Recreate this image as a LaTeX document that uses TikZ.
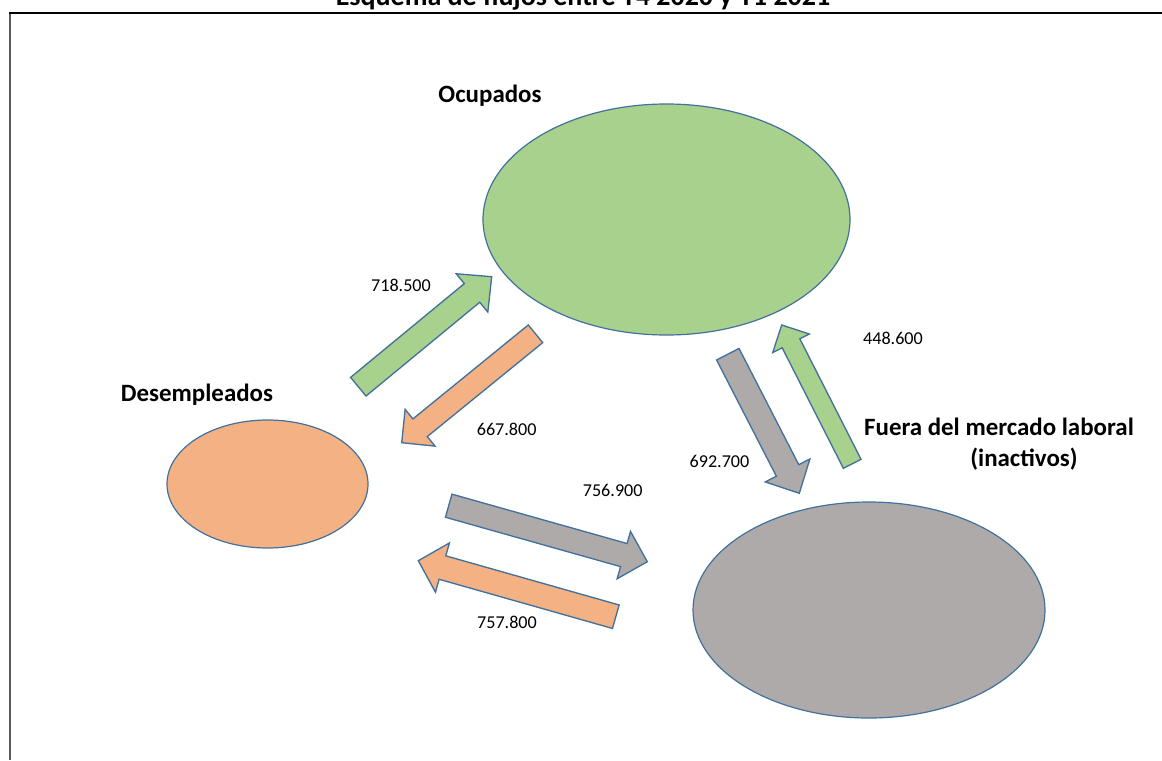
\documentclass[tikz,border=0pt]{standalone}
\usepackage{fontspec}
\setmainfont{Carlito}
\usetikzlibrary{calc,shapes.geometric}
\definecolor{ocup}{HTML}{A9D18E}
\definecolor{desem}{HTML}{F4B183}
\definecolor{inact}{HTML}{AEAAAA}
\definecolor{edgeblue}{HTML}{41719C}
\newcommand\blockarrow[6]{%
  \coordinate (ba-J) at ($(#2)!#5*0.75pt!(#1)$);
  \filldraw[arrowbox, fill=#6]
    ($(#1)!#3*0.75pt!90:(#2)$) -- ($(ba-J)!#3*0.75pt!90:(#2)$) --
    ($(ba-J)!#4*0.75pt!90:(#2)$) -- (#2) --
    ($(ba-J)!#4*0.75pt!-90:(#2)$) -- ($(ba-J)!#3*0.75pt!-90:(#2)$) --
    ($(#1)!#3*0.75pt!-90:(#2)$) -- cycle;}
\begin{document}
\begin{tikzpicture}[x=0.75pt,y=-0.75pt,
  blob/.style={ellipse, draw=edgeblue, line width=0.9pt, inner sep=0pt},
  arrowbox/.style={draw=edgeblue, line width=1pt, line join=miter},
  boldlabel/.style={font=\fontsize{18.7}{22}\selectfont\bfseries, anchor=base, inner sep=0pt},
  titlelabel/.style={font=\fontsize{21}{25}\selectfont\bfseries, anchor=base, inner sep=0pt},
  numlabel/.style={font=\fontsize{13.6}{16}\selectfont, anchor=base, inner sep=0pt}]
\useasboundingbox (0,0) rectangle (1162,760);
\fill[white] (0,0) rectangle (1162,760);
% frame
\coordinate (fl) at (9,13);
\coordinate (fr) at (1162,13);
\coordinate (fb) at (10,760);
\draw[gray!70!black, line width=1.5pt] (10,13) -- (fb);
\draw[black, line width=2.2pt] (fl) -- (fr);
% title
\node[titlelabel] (title) at (583,5) {Esquema de flujos entre T4 2020 y T1 2021};
% ellipses
\node[blob, fill=ocup, minimum width=275.25pt, minimum height=173.25pt] (ocup) at (666.5,219.5) {};
\node[blob, fill=desem, minimum width=150.75pt, minimum height=96pt] (desem) at (267.5,484) {};
\node[blob, fill=inact, minimum width=264pt, minimum height=162pt] (inact) at (869,610) {};
% labels
\node[boldlabel] (locup) at (490,102.7) {Ocupados};
\node[boldlabel] (ldesem) at (197,401.7) {Desempleados};
\node[boldlabel] (linact1) at (999,435) {Fuera del mercado laboral};
\node[boldlabel] (linact2) at (1024,466.7) {(inactivos)};
% arrow end points
\coordinate (a1t) at (358.3,386.7); \coordinate (a1h) at (491.7,276.7);
\coordinate (a2t) at (535.5,333.8); \coordinate (a2h) at (401.7,442.7);
\coordinate (a3t) at (727.8,354.2); \coordinate (a3h) at (799.3,493.3);
\coordinate (a4t) at (852.2,463.8); \coordinate (a4h) at (781.7,325);
\coordinate (a5t) at (448.7,505.7); \coordinate (a5h) at (647.3,561.7);
\coordinate (a6t) at (615.8,616.7); \coordinate (a6h) at (418.3,560.7);
\blockarrow{a1t}{a1h}{12.1}{24.8}{25.5}{ocup}
\blockarrow{a2t}{a2h}{11.4}{23.7}{23.7}{desem}
\blockarrow{a3t}{a3h}{12.6}{25.1}{25.7}{inact}
\blockarrow{a4t}{a4h}{9.9}{20.5}{20.5}{ocup}
\blockarrow{a5t}{a5h}{12}{24.6}{24.4}{inact}
\blockarrow{a6t}{a6h}{12.2}{25.6}{25.1}{desem}
% numbers
\node[numlabel] (n1) at (401,291.7) {718.500};
\node[numlabel] (n2) at (506.7,435) {667.800};
\node[numlabel] (n3) at (719.5,467.3) {692.700};
\node[numlabel] (n4) at (893,344) {448.600};
\node[numlabel] (n5) at (612.7,496) {756.900};
\node[numlabel] (n6) at (507,628.3) {757.800};
\end{tikzpicture}
\end{document}
